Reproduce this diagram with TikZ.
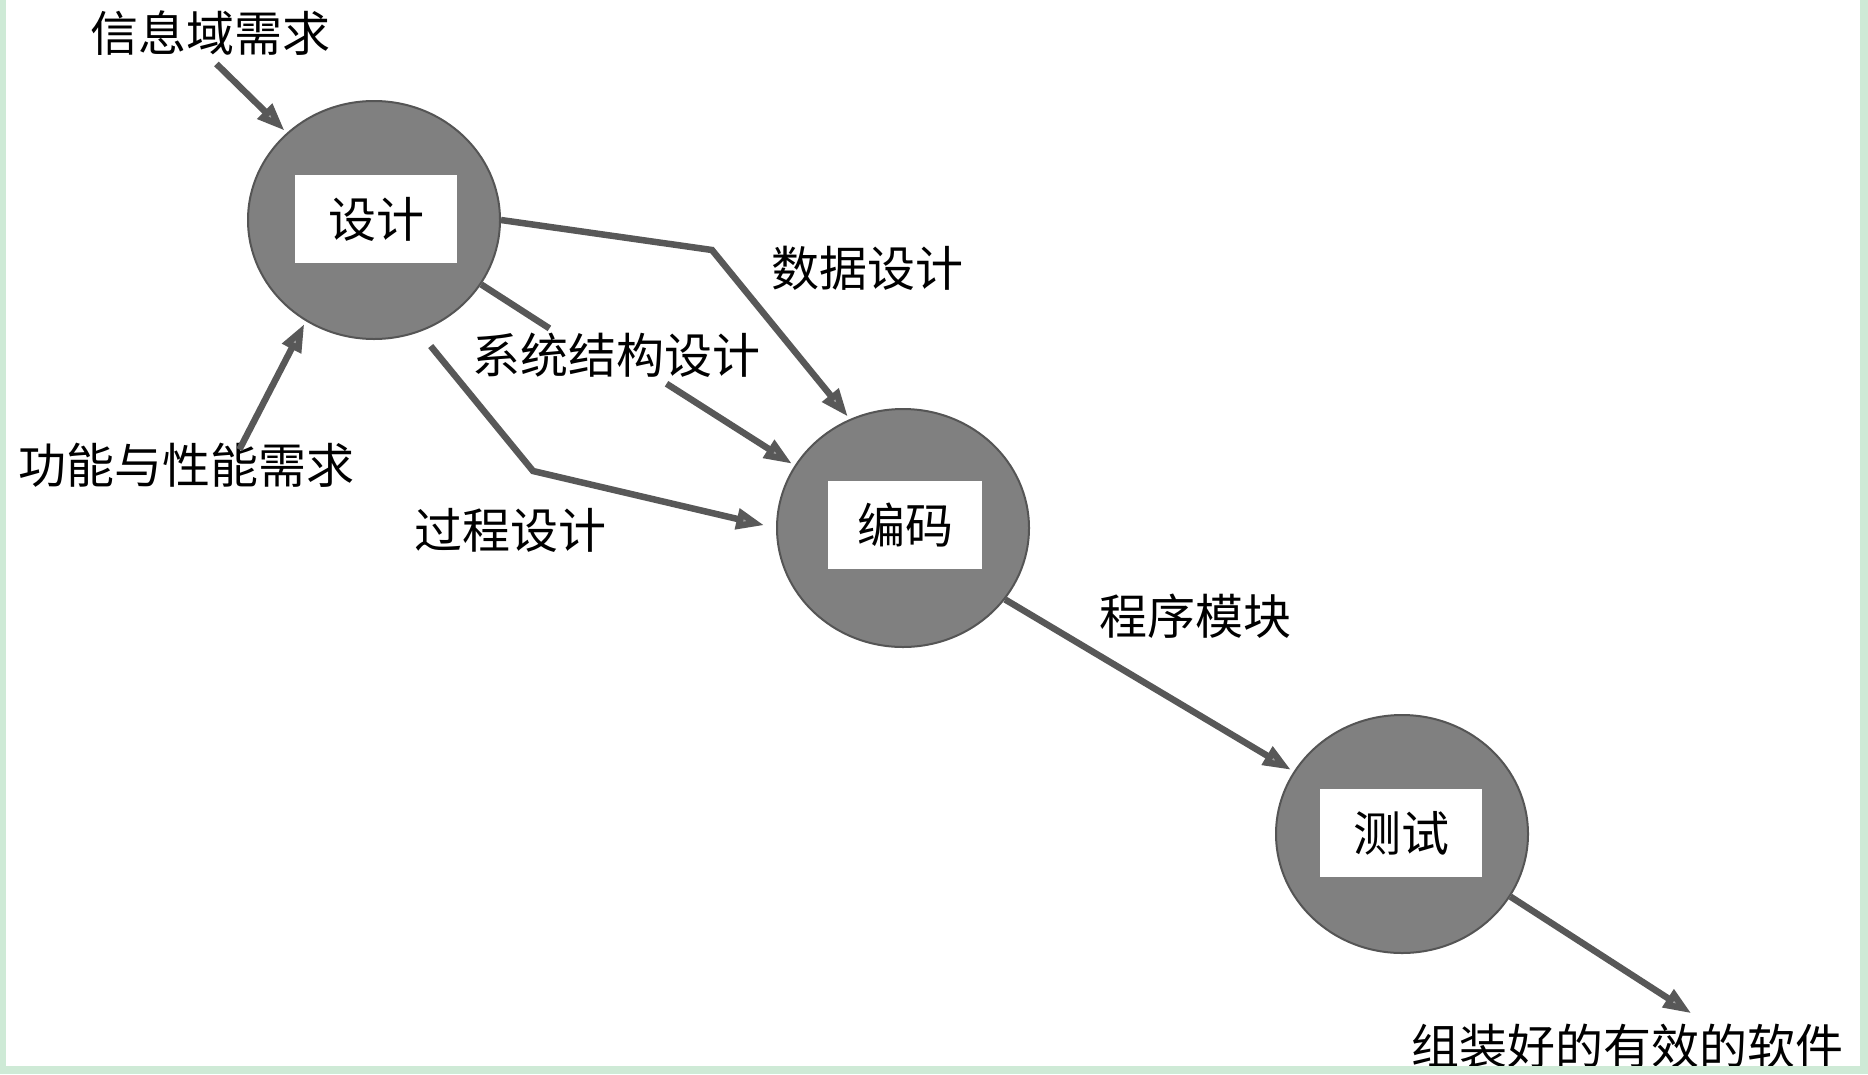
\documentclass[tikz,border=0pt]{standalone}
\usepackage{fontspec}
\setmainfont{Noto Sans CJK SC}
\usetikzlibrary{arrows.meta, positioning, shapes.geometric}
\definecolor{stagegray}{RGB}{128,128,128}
\definecolor{rimgray}{RGB}{85,85,85}
\definecolor{flowgray}{RGB}{88,88,88}
\definecolor{framegreen}{RGB}{206,234,214}

\tikzset{
    stage/.style={ellipse, draw=rimgray, line width=2pt, fill=stagegray, minimum width=252pt, minimum height=238pt, inner sep=0pt},
    stagebox/.style={fill=white, minimum width=162pt, minimum height=88pt, inner sep=0pt},
    lbl/.style={inner sep=2pt},
    link/.style={line width=6.5pt, flowgray},
    flow/.style={link, -{Triangle[length=28pt, width=20pt, fill=gray!75]}},
}

\begin{document}
\begin{tikzpicture}[x=1pt, y=-1pt, font=\fontsize{48pt}{52pt}\selectfont]
    \useasboundingbox[fill=white] (0,0) rectangle (1868,1074);

    % the three stages
    \node[stage] (design) at (374,220) {};
    \node[stagebox] (designbox) at (376,219) {设计};
    \node[stage] (coding) at (903,528) {};
    \node[stagebox, minimum width=154pt] (codingbox) at (905,525) {编码};
    \node[stage] (test) at (1402,834) {};
    \node[stagebox] (testbox) at (1401,833) {测试};

    % labels
    \node[lbl] (info) at (210,33) {信息域需求};
    \node[lbl] (func) at (186,465) {功能与性能需求};
    \node[lbl] (data) at (867,268) {数据设计};
    \node[lbl] (arch) at (616,355) {系统结构设计};
    \node[lbl] (proc) at (510,530) {过程设计};
    \node[lbl] (module) at (1195,616) {程序模块};
    \node[lbl] (output) at (1627,1046) {组装好的有效的软件};

    \coordinate (databend) at (712,250);
    \coordinate (procbend) at (533,471);

    % inputs of design
    \draw[flow, shorten <=9pt, shorten >=3pt] (info.south) -- (design.135);
    \draw[flow, shorten <=-10pt, shorten >=3pt] ([xshift=58pt]func.north) -- (design.236);

    % design -> coding
    \draw[flow, shorten >=3pt] (design.east) -- (databend) -- (coding.116);
    \draw[link, shorten >=4pt] (design.329) -- ([xshift=83pt]arch.north west);
    \draw[flow, shorten <=8pt, shorten >=3pt] ([xshift=190pt]arch.south west) -- (coding.150);
    \draw[flow, shorten <=18pt, shorten >=12pt] (design.292) -- (procbend) -- (coding.west);

    % coding -> test -> output
    \draw[flow, shorten >=3pt] (coding.-35) -- (test.150);
    \draw[flow, shorten >=15pt] (test.-30) -- ([xshift=77pt]output.north);

    % frame
    \fill[framegreen] (0,0) rectangle (6,1074);
    \fill[framegreen] (1860,0) rectangle (1868,1074);
    \fill[framegreen] (0,1066) rectangle (1868,1074);
\end{tikzpicture}
\end{document}
